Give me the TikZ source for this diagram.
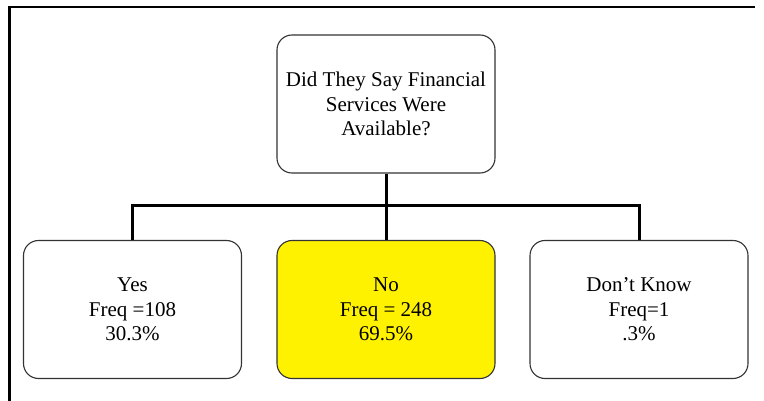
\documentclass[tikz,border=0pt]{standalone}
\usepackage{fontspec}
\setmainfont{Liberation Serif}
\begin{document}
\begin{tikzpicture}[x=1pt,y=-1pt,
  box/.style={draw=black!80,line width=1.1pt,rounded corners=15pt,
    minimum width=218pt,minimum height=138pt,align=center,inner sep=0pt,
    font=\fontsize{21}{24.5}\selectfont},
  conn/.style={draw=black,line width=3pt},
  frame/.style={draw=black,line width=2.6pt}]
\useasboundingbox (0,0) rectangle (764,401);
\draw[frame] (9.5,402) -- (9.5,7) -- (755,7);
\node[box,fill=white] (top) at (386,104) {Did They Say Financial\\Services Were\\Available?};
\node[box,fill=white] (yes) at (132.5,309.5) {Yes\\Freq =108\\30.3\%};
\node[box,fill=yellow] (no) at (386,309.5) {No\\Freq = 248\\69.5\%};
\node[box,fill=white] (dk) at (639,309.5) {Don’t Know\\Freq=1\\.3\%};
\coordinate (j) at (386,206);
\draw[conn] (top.south) -- (no.north);
\draw[conn] (yes.north) -- (yes.north |- j) -- (dk.north |- j) -- (dk.north);
\end{tikzpicture}
\end{document}
